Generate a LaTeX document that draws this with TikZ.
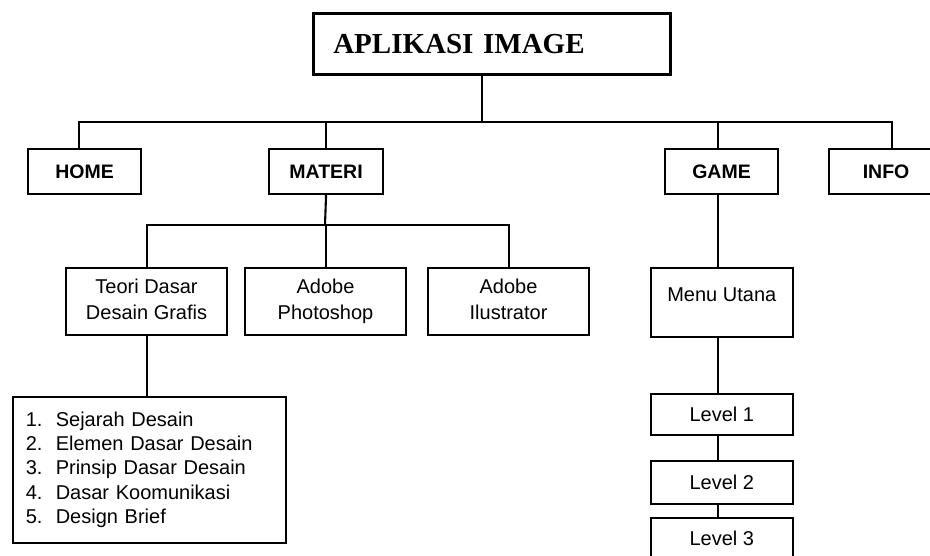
\documentclass[tikz,border=0pt]{standalone}
\usepackage{fontspec}
\setmainfont{Liberation Sans}
\newfontfamily\titlefont{Liberation Serif}
\begin{document}
\begin{tikzpicture}[x=1pt,y=-1pt,
  box/.style={draw, line width=2.1pt, inner sep=0pt, anchor=north west,
    font=\fontsize{20}{26}\selectfont, align=center},
  topbox/.style={box, minimum height=45, font=\fontsize{19.5}{24}\bfseries\selectfont},
  lowbox/.style={box, line width=1.6pt, minimum width=142},
  conn/.style={line width=2.1pt}]
\useasboundingbox (0,0) rectangle (930,555);
\clip (0,0) rectangle (930,555);
\fill[white] (0,0) rectangle (930,555);

% title
\fill[gray!45] (314.5,14.5) rectangle (671.5,75.5);
\node[box, line width=2.6pt, fill=white, minimum width=357, minimum height=61,
  text width=317, inner xsep=20pt, align=left,
  font=\titlefont\fontsize{29}{32}\bfseries\selectfont] (title) at (312,12) {APLIKASI IMAGE};

% first level
\node[topbox, minimum width=113] (home)   at (27,148)  {HOME};
\node[topbox, minimum width=114] (materi) at (268,148) {MATERI};
\node[topbox, minimum width=113] (game)   at (664,148) {GAME};
\node[topbox, minimum width=114] (info)   at (828,148) {INFO};

% materi children
\node[box, minimum width=161, minimum height=67] (teori) at (65,267)  {Teori Dasar\strut\\Desain Grafis\strut};
\node[box, minimum width=161, minimum height=67] (photo) at (244,267) {Adobe\strut\\Photoshop\strut};
\node[box, minimum width=161, minimum height=67] (ilus)  at (427,267) {Adobe\strut\\Ilustrator\strut};

% list
\node[box, line width=1.6pt, minimum width=273, minimum height=146, text width=247,
  inner xsep=13pt, align=left, font=\fontsize{20}{24.3}\selectfont] (list) at (12,396)
  {\makebox[30pt][l]{1.}Sejarah Desain\\
   \makebox[30pt][l]{2.}Elemen Dasar Desain\\
   \makebox[30pt][l]{3.}Prinsip Dasar Desain\\
   \makebox[30pt][l]{4.}Dasar Koomunikasi\\
   \makebox[30pt][l]{5.}Design Brief};

% game children
\node[lowbox, minimum height=69, align=none, text depth=16pt] (menu) at (650,267) {Menu Utana};
\node[lowbox, minimum height=41] (lv1) at (650,393) {Level 1};
\node[lowbox, minimum height=43] (lv2) at (650,460) {Level 2};
\node[lowbox, minimum height=42] (lv3) at (650,517) {Level 3};

% connectors
\coordinate (jtop) at (482,122);
\coordinate (homet) at ([xshift=-5.5pt]home.north);
\coordinate (infot) at ([xshift=6pt]info.north);
\coordinate (gamet) at ([xshift=-3.5pt]game.north);
\coordinate (gameb) at ([xshift=-3.5pt]game.south);
\coordinate (jmat) at (325,225);

\draw[conn] (title.south -| jtop) -- (jtop);
\draw[conn] (homet) |- (infot |- jtop) -- (infot);
\draw[conn] (materi.north) -- (materi.north |- jtop);
\draw[conn] (gamet) -- (gamet |- jtop);

\draw[conn] (materi.south) -- (jmat);
\draw[conn] (teori.north) |- (ilus.north |- jmat) -- (ilus.north);
\draw[conn] (photo.north) -- (photo.north |- jmat);
\draw[conn] (teori.south) -- (teori.south |- list.north);

\draw[conn] (gameb) -- (gameb |- menu.north);
\draw[conn] (gameb |- menu.south) -- (gameb |- lv1.north);
\draw[conn] (gameb |- lv1.south) -- (gameb |- lv2.north);
\draw[conn] (gameb |- lv2.south) -- (gameb |- lv3.north);
\end{tikzpicture}
\end{document}
